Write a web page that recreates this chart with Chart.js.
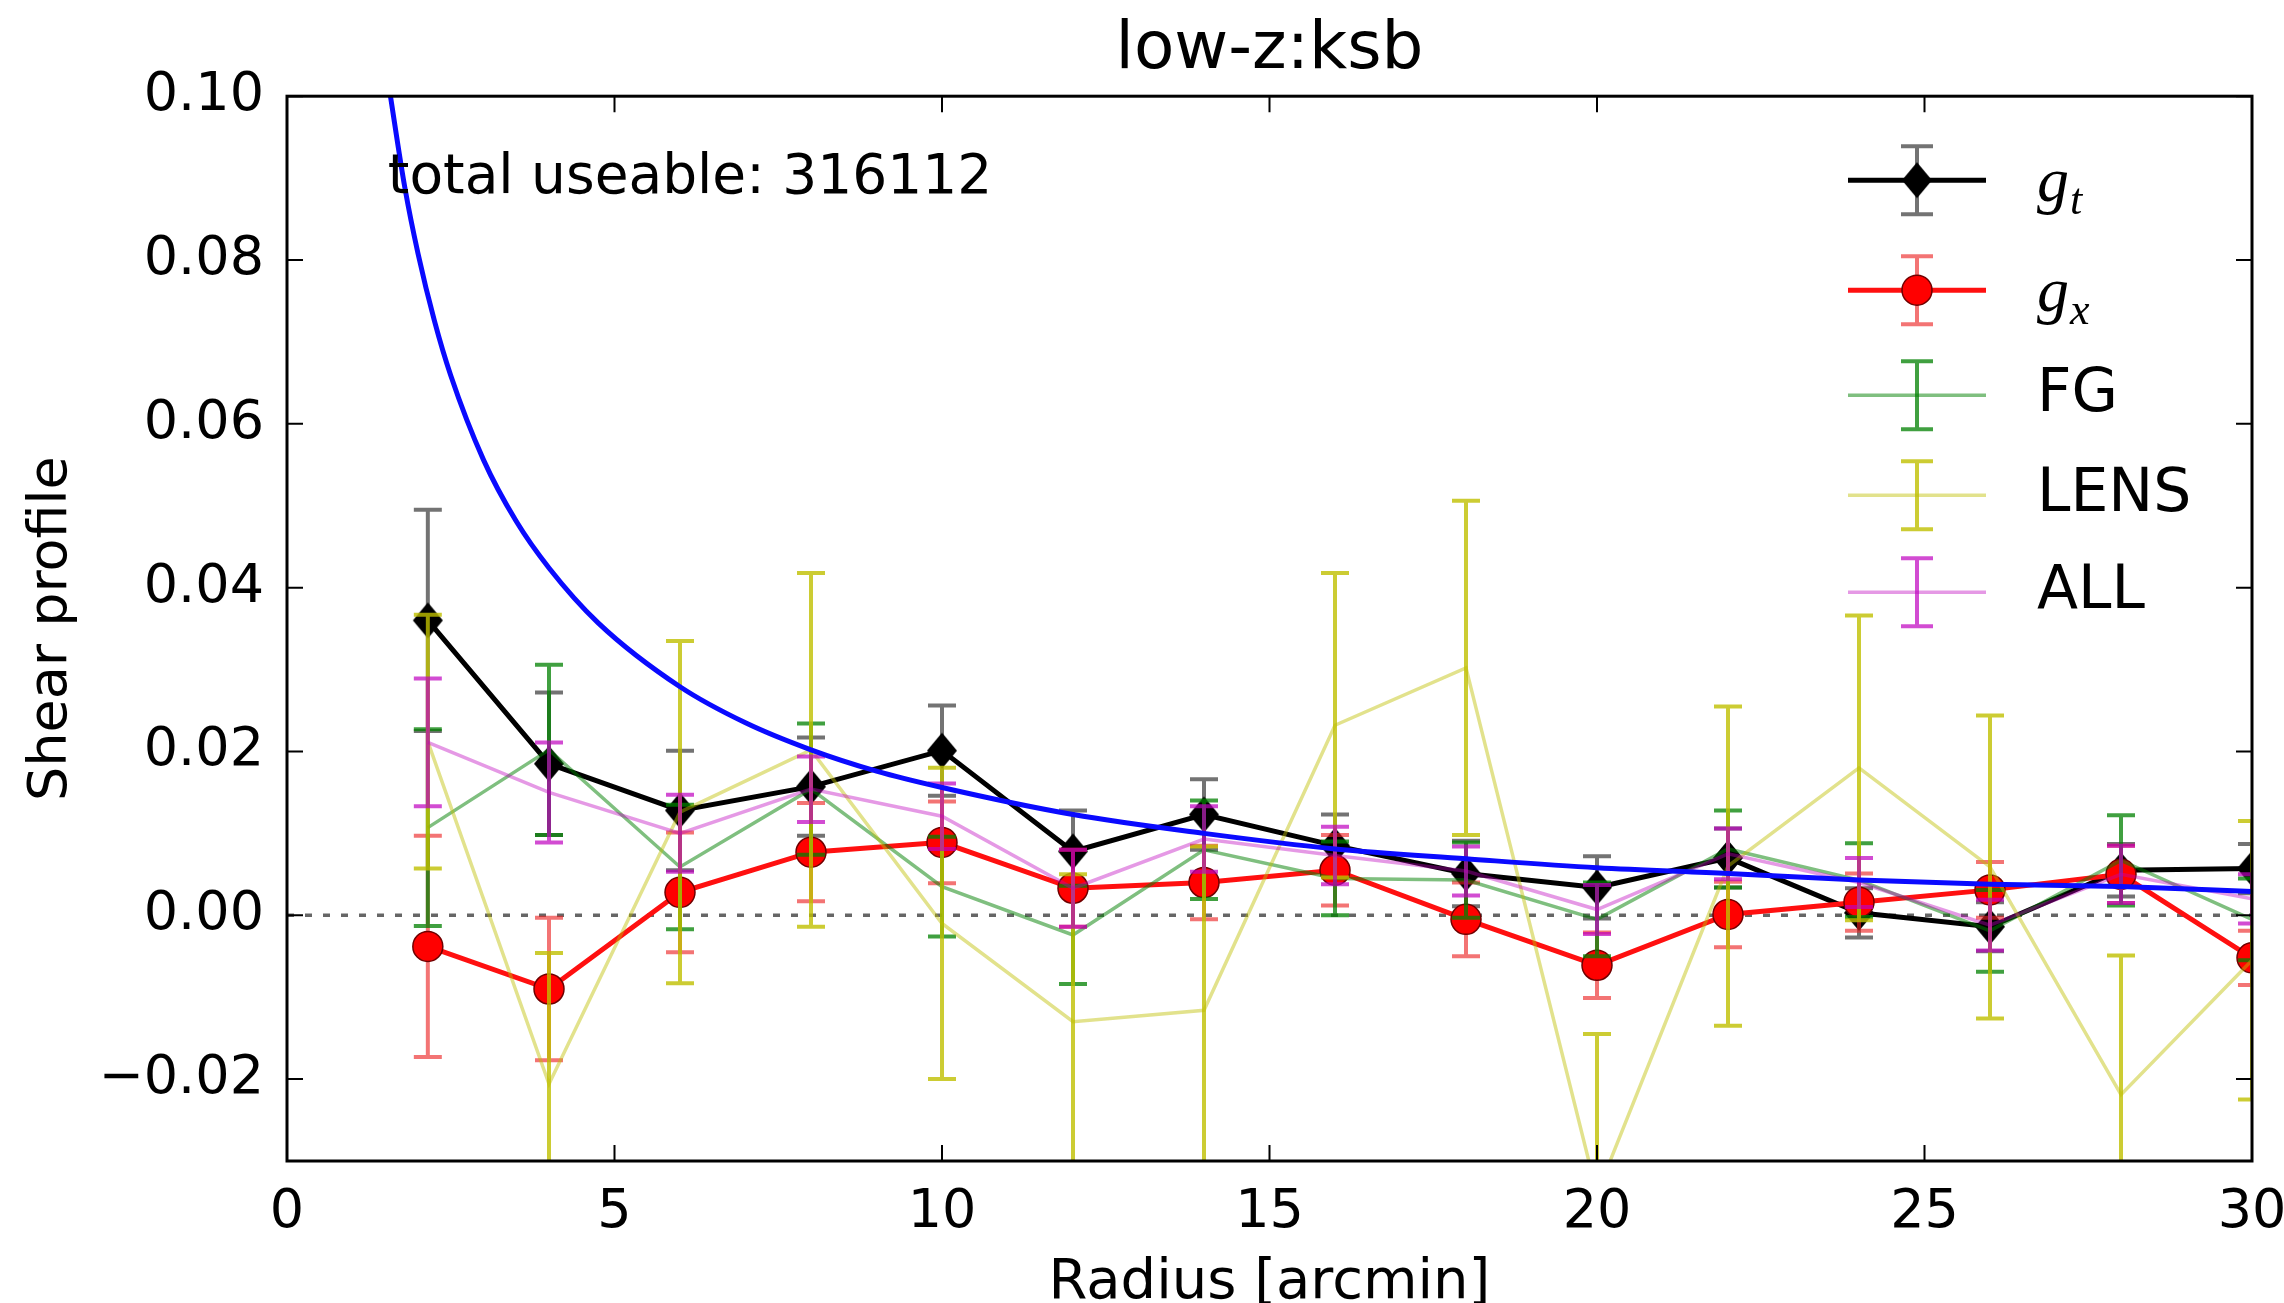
<!DOCTYPE html>
<html>
<head>
<meta charset="utf-8">
<title>low-z:ksb</title>
<script src="https://cdn.jsdelivr.net/npm/chart.js@4.4.1/dist/chart.umd.min.js"></script>
<style>
  html, body { margin:0; padding:0; background:#fff; }
  #wrap { width:2284px; height:1303px; }
</style>
</head>
<body>
<div id="wrap"><canvas id="shear" width="2284" height="1303"></canvas></div>
<script>
// ============================================================
// SHEAR PROFILE  (low-z : ksb)
// ============================================================
const FONT = '"DejaVu Sans", sans-serif';

// bin centres [arcmin]
const radius = [2.15, 4, 6, 8, 10, 12, 14, 16, 18, 20, 22, 24, 26, 28, 30];

// tangential shear g_t
const gT    = [0.0360, 0.0185, 0.0128, 0.0157, 0.0201, 0.0078, 0.0123, 0.0085, 0.0051, 0.0034, 0.0070, 0.0003, -0.0014, 0.0055, 0.0057];
const gTErr = [0.0135, 0.0087, 0.0073, 0.0060, 0.0055, 0.0050, 0.0043, 0.0038, 0.0040, 0.0038, 0.0036, 0.0030, 0.0030, 0.0032, 0.0030];

// cross shear g_x
const gX    = [-0.0038, -0.0090, 0.0028, 0.0077, 0.0089, 0.0033, 0.0040, 0.0055, -0.0005, -0.0061, 0.0001, 0.0016, 0.0031, 0.0050, -0.0052];
const gXErr = [0.0135, 0.0087, 0.0073, 0.0060, 0.0050, 0.0047, 0.0045, 0.0043, 0.0045, 0.0040, 0.0040, 0.0035, 0.0034, 0.0035, 0.0033];

// foreground sample
const fg    = [0.0107, 0.0202, 0.0059, 0.0154, 0.0035, -0.0024, 0.0080, 0.0045, 0.0043, -0.0005, 0.0081, 0.0043, -0.0019, 0.0067, -0.0005];
const fgErr = [0.0120, 0.0104, 0.0076, 0.0080, 0.0061, 0.0060, 0.0060, 0.0045, 0.0046, 0.0045, 0.0047, 0.0045, 0.0050, 0.0055, 0.0050];

// lens-redshift sample
const lens    = [0.0212, -0.0206, 0.0126, 0.0202, -0.0010, -0.0130, -0.0116, 0.0232, 0.0302, -0.0340, 0.0060, 0.0180, 0.0059, -0.0219, -0.0055];
const lensErr = [0.0155, 0.0160, 0.0209, 0.0216, 0.0190, 0.0180, 0.0200, 0.0186, 0.0204, 0.0195, 0.0195, 0.0186, 0.0185, 0.0170, 0.0170];

// all galaxies
const all    = [0.0211, 0.0150, 0.0100, 0.0154, 0.0121, 0.0033, 0.0093, 0.0073, 0.0054, 0.0007, 0.0075, 0.0040, -0.0012, 0.0050, 0.0020];
const allErr = [0.0078, 0.0061, 0.0047, 0.0040, 0.0040, 0.0047, 0.0040, 0.0035, 0.0030, 0.0030, 0.0031, 0.0030, 0.0031, 0.0035, 0.0030];

// model curve (blue)
const modelR = [1.56, 1.8, 2.0, 2.25, 2.5, 3.0, 3.5, 4.0, 4.75, 6, 7, 8, 9, 10, 12, 14, 16, 18, 20, 22, 24, 26, 28, 30];
const modelG = [0.101, 0.0888, 0.0808, 0.0726, 0.0659, 0.0556, 0.0481, 0.0424, 0.0357, 0.0279, 0.0235, 0.0202, 0.0176, 0.0156, 0.0123, 0.0100, 0.0081, 0.0069, 0.0058, 0.0051, 0.0043, 0.0038, 0.0035, 0.0029];

const xTicks = [0, 5, 10, 15, 20, 25, 30];
const yTicks = [-0.02, 0, 0.02, 0.04, 0.06, 0.08, 0.10];

const annotText = 'total useable: 316112';
const annotX = 1.54, annotY = 0.0882;

const pts = (xs, ys) => xs.map((x, i) => ({ x, y: ys[i] }));

function thinDiamond(w, h) {
  const c = document.createElement('canvas');
  c.width = w + 2; c.height = h + 2;
  const g = c.getContext('2d');
  g.beginPath();
  g.moveTo(c.width/2, 1); g.lineTo(c.width-1, c.height/2);
  g.lineTo(c.width/2, c.height-1); g.lineTo(1, c.height/2);
  g.closePath();
  g.fillStyle = '#000'; g.fill();
  return c;
}
const DIAMOND = thinDiamond(30, 36);

const series = [
  { label:'g_t',  vals:gT,   err:gTErr,   line:'#000',                 lw:5,   bar:'rgba(0,0,0,0.55)',     order:6, marker:'diamond' },
  { label:'g_x',  vals:gX,   err:gXErr,   line:'#ff1010',              lw:5,   bar:'rgba(235,30,30,0.62)', order:5, marker:'circle' },
  { label:'FG',   vals:fg,   err:fgErr,   line:'rgba(0,128,0,0.5)',    lw:3.5, bar:'rgba(0,128,0,0.75)',   order:4 },
  { label:'LENS', vals:lens, err:lensErr, line:'rgba(191,191,0,0.45)', lw:3.5, bar:'rgba(191,191,0,0.8)',  order:3 },
  { label:'ALL',  vals:all,  err:allErr,  line:'rgba(191,0,191,0.4)',  lw:3.5, bar:'rgba(191,0,191,0.7)',  order:2 },
];
const errMap = {};
series.forEach(s => { errMap[s.label] = s; });

const datasets = series.map(s => ({
  label: s.label,
  data: pts(radius, s.vals),
  borderColor: s.line,
  borderWidth: s.lw,
  order: s.order,
  clip: 0,
  tension: 0,
  pointStyle: s.marker === 'diamond' ? DIAMOND : 'circle',
  pointRadius: s.marker ? 15 : 0,
  pointBackgroundColor: s.marker === 'circle' ? '#ff0000' : '#000',
  pointBorderColor: s.marker === 'circle' ? '#700000' : '#000',
  pointBorderWidth: s.marker === 'circle' ? 1.5 : 0,
}));
datasets.push({
  label: 'model',
  data: pts(modelR, modelG),
  borderColor: '#0a0aff',
  borderWidth: 5,
  pointRadius: 0,
  order: 1,
  clip: 0,
  cubicInterpolationMode: 'monotone',
});

function drawLegend(ctx, a) {
  const x1 = a.right - 404, x2 = a.right - 266, xc = (x1 + x2) / 2, tx = a.right - 215;
  const rows = [84, 194, 299, 399, 496];
  series.forEach((s, i) => {
    const ry = a.top + rows[i];
    ctx.save();
    ctx.lineCap = 'butt';
    ctx.strokeStyle = s.bar; ctx.lineWidth = 4;
    ctx.beginPath();
    ctx.moveTo(xc, ry - 34); ctx.lineTo(xc, ry + 34);
    ctx.moveTo(xc - 16, ry - 34); ctx.lineTo(xc + 16, ry - 34);
    ctx.moveTo(xc - 16, ry + 34); ctx.lineTo(xc + 16, ry + 34);
    ctx.stroke();
    ctx.strokeStyle = s.line; ctx.lineWidth = s.lw;
    ctx.beginPath(); ctx.moveTo(x1, ry); ctx.lineTo(x2, ry); ctx.stroke();
    if (s.marker === 'diamond') {
      ctx.drawImage(DIAMOND, xc - DIAMOND.width/2, ry - DIAMOND.height/2);
    } else if (s.marker === 'circle') {
      ctx.beginPath(); ctx.arc(xc, ry, 15, 0, Math.PI*2);
      ctx.fillStyle = '#ff0000'; ctx.fill();
      ctx.strokeStyle = '#700000'; ctx.lineWidth = 1.5; ctx.stroke();
    }
    ctx.fillStyle = '#000';
    if (s.label.includes('_')) {
      const [base, sub] = s.label.split('_');
      ctx.textBaseline = 'alphabetic'; ctx.textAlign = 'left';
      ctx.font = 'italic 64px "Liberation Serif", serif';
      ctx.fillText(base, tx, ry + 21);
      const w = ctx.measureText(base).width;
      ctx.font = 'italic 44px "Liberation Serif", serif';
      ctx.fillText(sub, tx + w + 1, ry + 34);
    } else {
      ctx.font = '60px ' + FONT;
      ctx.textBaseline = 'middle'; ctx.textAlign = 'left';
      ctx.fillText(s.label, tx, ry);
    }
    ctx.restore();
  });
}

const shearExtras = {
  id: 'shearExtras',
  beforeDatasetsDraw(chart) {
    const { ctx, chartArea: a, scales: { y } } = chart;
    const py = y.getPixelForValue(0);
    ctx.save();
    ctx.strokeStyle = 'rgba(0,0,0,0.6)'; ctx.lineWidth = 3.5; ctx.setLineDash([7, 11]);
    ctx.beginPath(); ctx.moveTo(a.left, py); ctx.lineTo(a.right, py); ctx.stroke();
    ctx.restore();
  },
  beforeDatasetDraw(chart, args) {
    const ds = chart.data.datasets[args.index];
    const s = errMap[ds.label];
    if (!s) return;
    const { ctx, chartArea: a, scales: { x, y } } = chart;
    ctx.save();
    ctx.beginPath(); ctx.rect(a.left, a.top, a.width, a.height); ctx.clip();
    ctx.strokeStyle = s.bar; ctx.lineWidth = 4;
    ds.data.forEach((p, i) => {
      const px = x.getPixelForValue(p.x);
      const lo = y.getPixelForValue(p.y - s.err[i]);
      const hi = y.getPixelForValue(p.y + s.err[i]);
      ctx.beginPath();
      ctx.moveTo(px, lo); ctx.lineTo(px, hi);
      ctx.moveTo(px - 14, lo); ctx.lineTo(px + 14, lo);
      ctx.moveTo(px - 14, hi); ctx.lineTo(px + 14, hi);
      ctx.stroke();
    });
    ctx.restore();
  },
  afterDatasetsDraw(chart) {
    const { ctx, chartArea: a, scales: { x, y } } = chart;
    ctx.save();
    // annotation
    ctx.fillStyle = '#000';
    ctx.font = '55px ' + FONT;
    ctx.textAlign = 'left'; ctx.textBaseline = 'alphabetic';
    ctx.fillText(annotText, x.getPixelForValue(annotX), y.getPixelForValue(annotY));
    // inward ticks
    ctx.strokeStyle = '#000'; ctx.lineWidth = 2;
    ctx.beginPath();
    xTicks.forEach(v => {
      const px = x.getPixelForValue(v);
      ctx.moveTo(px, a.bottom); ctx.lineTo(px, a.bottom - 16);
      ctx.moveTo(px, a.top);    ctx.lineTo(px, a.top + 16);
    });
    yTicks.forEach(v => {
      const py = y.getPixelForValue(v);
      ctx.moveTo(a.left, py);  ctx.lineTo(a.left + 16, py);
      ctx.moveTo(a.right, py); ctx.lineTo(a.right - 16, py);
    });
    ctx.stroke();
    // frame
    ctx.lineWidth = 3;
    ctx.strokeRect(a.left, a.top, a.width, a.height);
    ctx.restore();
    drawLegend(ctx, a);
  },
};

new Chart(document.getElementById('shear'), {
  type: 'line',
  data: { datasets },
  plugins: [shearExtras],
  options: {
    responsive: false,
    animation: false,
    devicePixelRatio: 1,
    layout: { padding: { left: 0, right: 32, top: 0, bottom: 0 } },
    plugins: {
      legend: { display: false },
      tooltip: { enabled: false },
      title: {
        display: true, fullSize: false, text: 'low-z:ksb', color: '#000',
        font: { family: FONT, size: 66, weight: 'normal', lineHeight: 1.2 },
        padding: { top: 11, bottom: 6 },
      },
    },
    scales: {
      x: {
        type: 'linear', min: 0, max: 30,
        afterBuildTicks: s => { s.ticks = xTicks.map(v => ({ value: v })); },
        afterFit: s => { s.height = 142; s.paddingLeft = 0; s.paddingRight = 0; },
        grid: { display: false, drawTicks: false }, border: { display: false },
        ticks: { color: '#000', font: { family: FONT, size: 54, lineHeight: 1 }, padding: 25, maxRotation: 0, autoSkip: false },
        title: { display: true, text: 'Radius [arcmin]', color: '#000', font: { family: FONT, size: 56, lineHeight: 1 }, padding: { top: 0, bottom: -8 } },
      },
      y: {
        type: 'linear', min: -0.03, max: 0.10,
        afterBuildTicks: s => { s.ticks = yTicks.map(v => ({ value: v })); },
        afterFit: s => { s.width = 287; s.paddingTop = 0; s.paddingBottom = 0; },
        grid: { display: false, drawTicks: false }, border: { display: false },
        ticks: { color: '#000', font: { family: FONT, size: 54, lineHeight: 1 }, padding: 23, autoSkip: false,
                 callback: v => v.toFixed(2).replace('-', '\u2212') },
        title: { display: true, text: 'Shear profile', color: '#000', font: { family: FONT, size: 54, lineHeight: 1 }, padding: { top: 25, bottom: 0 } },
      },
    },
  },
});
</script>
</body>
</html>
